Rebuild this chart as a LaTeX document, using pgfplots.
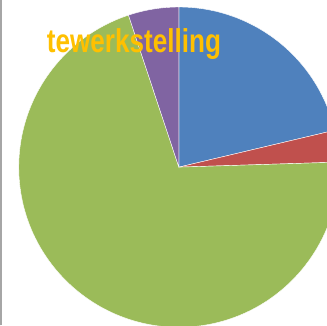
\documentclass[border=0pt]{standalone}
\usepackage{pgfplots}
\pgfplotsset{compat=1.18}
\usepackage{fontspec}
\setmainfont{Liberation Sans}
\definecolor{pblue}{RGB}{79,129,189}
\definecolor{pred}{RGB}{192,80,77}
\definecolor{pgreen}{RGB}{155,187,89}
\definecolor{ppurple}{RGB}{128,100,162}
\definecolor{ptitle}{RGB}{255,192,0}
% slice shares (percent), clockwise from 12 o'clock
\def\vA{21.3}\def\vB{3.2}\def\vC{70.4}\def\vD{5.1}
\pgfmathsetmacro{\aO}{90}
\pgfmathsetmacro{\aA}{\aO-3.6*\vA}
\pgfmathsetmacro{\aB}{\aA-3.6*\vB}
\pgfmathsetmacro{\aC}{\aB-3.6*\vC}
\pgfmathsetmacro{\aD}{\aC-3.6*\vD}
\def\cx{179}\def\cy{158}\def\rr{160}
\begin{document}
\begin{tikzpicture}
\begin{axis}[
  width=327pt, height=325pt, scale only axis,
  xmin=0, xmax=327, ymin=0, ymax=325,
  hide axis, clip=true,
]
\fill[pblue, draw=white, line width=0.4pt] (axis cs:\cx,\cy) -- (axis cs:{\cx+\rr*cos(\aO)},{\cy+\rr*sin(\aO)}) arc[start angle=\aO, end angle=\aA, radius=\rr] -- cycle;
\fill[pred, draw=white, line width=0.4pt] (axis cs:\cx,\cy) -- (axis cs:{\cx+\rr*cos(\aA)},{\cy+\rr*sin(\aA)}) arc[start angle=\aA, end angle=\aB, radius=\rr] -- cycle;
\fill[pgreen, draw=white, line width=0.4pt] (axis cs:\cx,\cy) -- (axis cs:{\cx+\rr*cos(\aB)},{\cy+\rr*sin(\aB)}) arc[start angle=\aB, end angle=\aC, radius=\rr] -- cycle;
\fill[ppurple, draw=white, line width=0.4pt] (axis cs:\cx,\cy) -- (axis cs:{\cx+\rr*cos(\aC)},{\cy+\rr*sin(\aC)}) arc[start angle=\aC, end angle=\aD, radius=\rr] -- cycle;
\draw[gray!70, line width=1.5pt] (axis cs:1,0) -- (axis cs:1,325);
\node[anchor=base west, inner sep=0pt, text=ptitle, font=\fontsize{33}{36}\selectfont\bfseries] at (axis cs:47,273) {\scalebox{0.79}[1]{tewerkstelling}};
\end{axis}
\end{tikzpicture}
\end{document}
